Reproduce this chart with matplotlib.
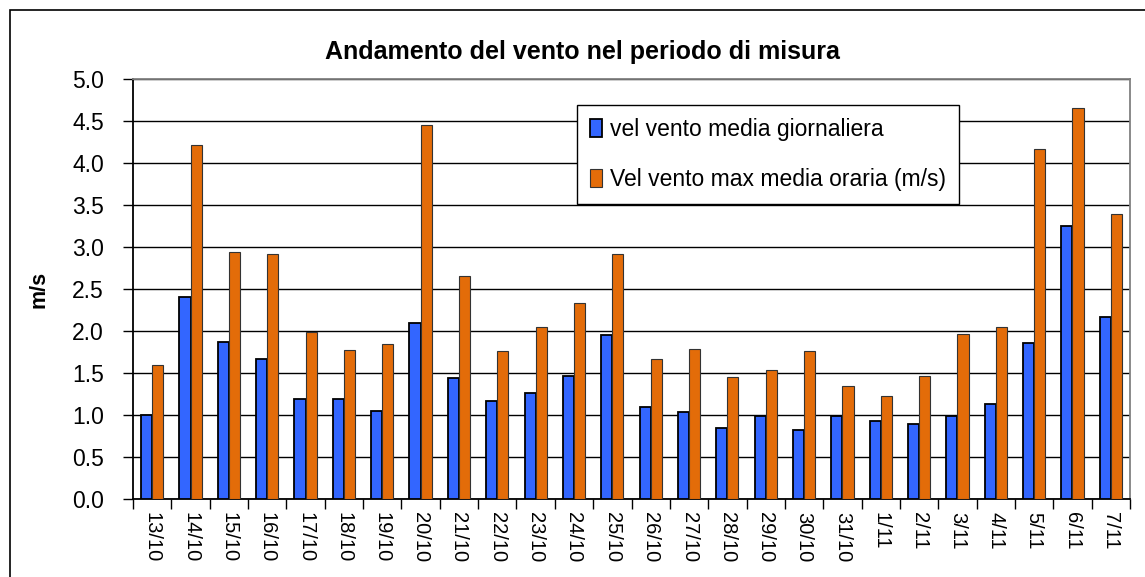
import numpy as np
import matplotlib
matplotlib.use("Agg")
import matplotlib.pyplot as plt
from matplotlib.patches import Rectangle

plt.rcParams['font.family'] = ['Liberation Sans', 'DejaVu Sans']

# dati
giorni = ['13/10', '14/10', '15/10', '16/10', '17/10', '18/10', '19/10', '20/10', '21/10',
          '22/10', '23/10', '24/10', '25/10', '26/10', '27/10', '28/10', '29/10', '30/10',
          '31/10', '1/11', '2/11', '3/11', '4/11', '5/11', '6/11', '7/11']
vel_media = [1.00, 2.41, 1.87, 1.67, 1.19, 1.19, 1.05, 2.10, 1.44,
             1.17, 1.26, 1.46, 1.95, 1.09, 1.03, 0.84, 0.99, 0.82,
             0.99, 0.93, 0.89, 0.99, 1.13, 1.86, 3.25, 2.17]
vel_max = [1.59, 4.21, 2.94, 2.92, 1.99, 1.77, 1.85, 4.45, 2.65,
           1.76, 2.05, 2.33, 2.92, 1.67, 1.79, 1.45, 1.54, 1.76,
           1.35, 1.23, 1.46, 1.97, 2.05, 4.17, 4.66, 3.39]
y_ticks = [0.0, 0.5, 1.0, 1.5, 2.0, 2.5, 3.0, 3.5, 4.0, 4.5, 5.0]

fig = plt.figure(figsize=(11.45, 5.77), dpi=100)
ax = fig.add_axes([133 / 1145, 1 - 499 / 577, 997 / 1145, 420 / 577])

# cornice esterna
fig.patches.append(Rectangle((10 / 1145, -0.1), 1.2, 1 - 10 / 577 + 0.1,
                             transform=fig.transFigure, fill=False,
                             edgecolor='black', linewidth=1.2))

x = np.arange(len(giorni))
w = 0.29
ax.bar(x - w / 2, vel_media, w, color='#3366FF', edgecolor='black', linewidth=1.3,
       label='vel vento media giornaliera', zorder=3)
ax.bar(x + w / 2, vel_max, w, color='#E36C09', edgecolor='#333333', linewidth=0.8,
       label='Vel vento max media oraria (m/s)', zorder=3)

ax.set_ylim(0, 5)
ax.set_xlim(-0.5, len(giorni) - 0.5)
ax.set_yticks(y_ticks)
ax.set_yticklabels([f"{v:.1f}" for v in y_ticks], fontsize=16.5)
ax.yaxis.grid(True, color='black', linewidth=1.0, zorder=0)
ax.set_axisbelow(True)

ax.set_xticks(np.arange(-0.5, len(giorni)), minor=False)
ax.set_xticklabels([])
ax.set_xticks(x, minor=True)
ax.set_xticklabels(giorni, minor=True, rotation=270, fontsize=14.5, va='top', ha='center')
ax.tick_params(axis='x', which='minor', length=0, pad=9)
ax.tick_params(axis='x', which='major', length=7, width=1, color='black')
ax.tick_params(axis='y', length=7, width=1, pad=14)

ax.spines['left'].set_color('black')
ax.spines['bottom'].set_color('black')
ax.spines['top'].set_color('#808080')
ax.spines['right'].set_color('#808080')
for s in ax.spines.values():
    s.set_linewidth(1.3)

ax.set_ylabel('m/s', fontsize=15.5, fontweight='bold', labelpad=16)
fig.text(582 / 1145, 1 - 52 / 577, 'Andamento del vento nel periodo di misura',
         fontsize=18, fontweight='bold', ha='center', va='center')

leg = ax.legend(loc='upper left', bbox_to_anchor=(577 / 1145, 1 - 105 / 577),
                bbox_transform=fig.transFigure, fontsize=16.5, frameon=True,
                fancybox=False, edgecolor='black', framealpha=1,
                handlelength=0.55, handleheight=0.85, handletextpad=0.35,
                labelspacing=1.2, borderpad=0.55, borderaxespad=0)
leg.get_frame().set_linewidth(1.0)

fig.savefig('out.png', dpi=100)
